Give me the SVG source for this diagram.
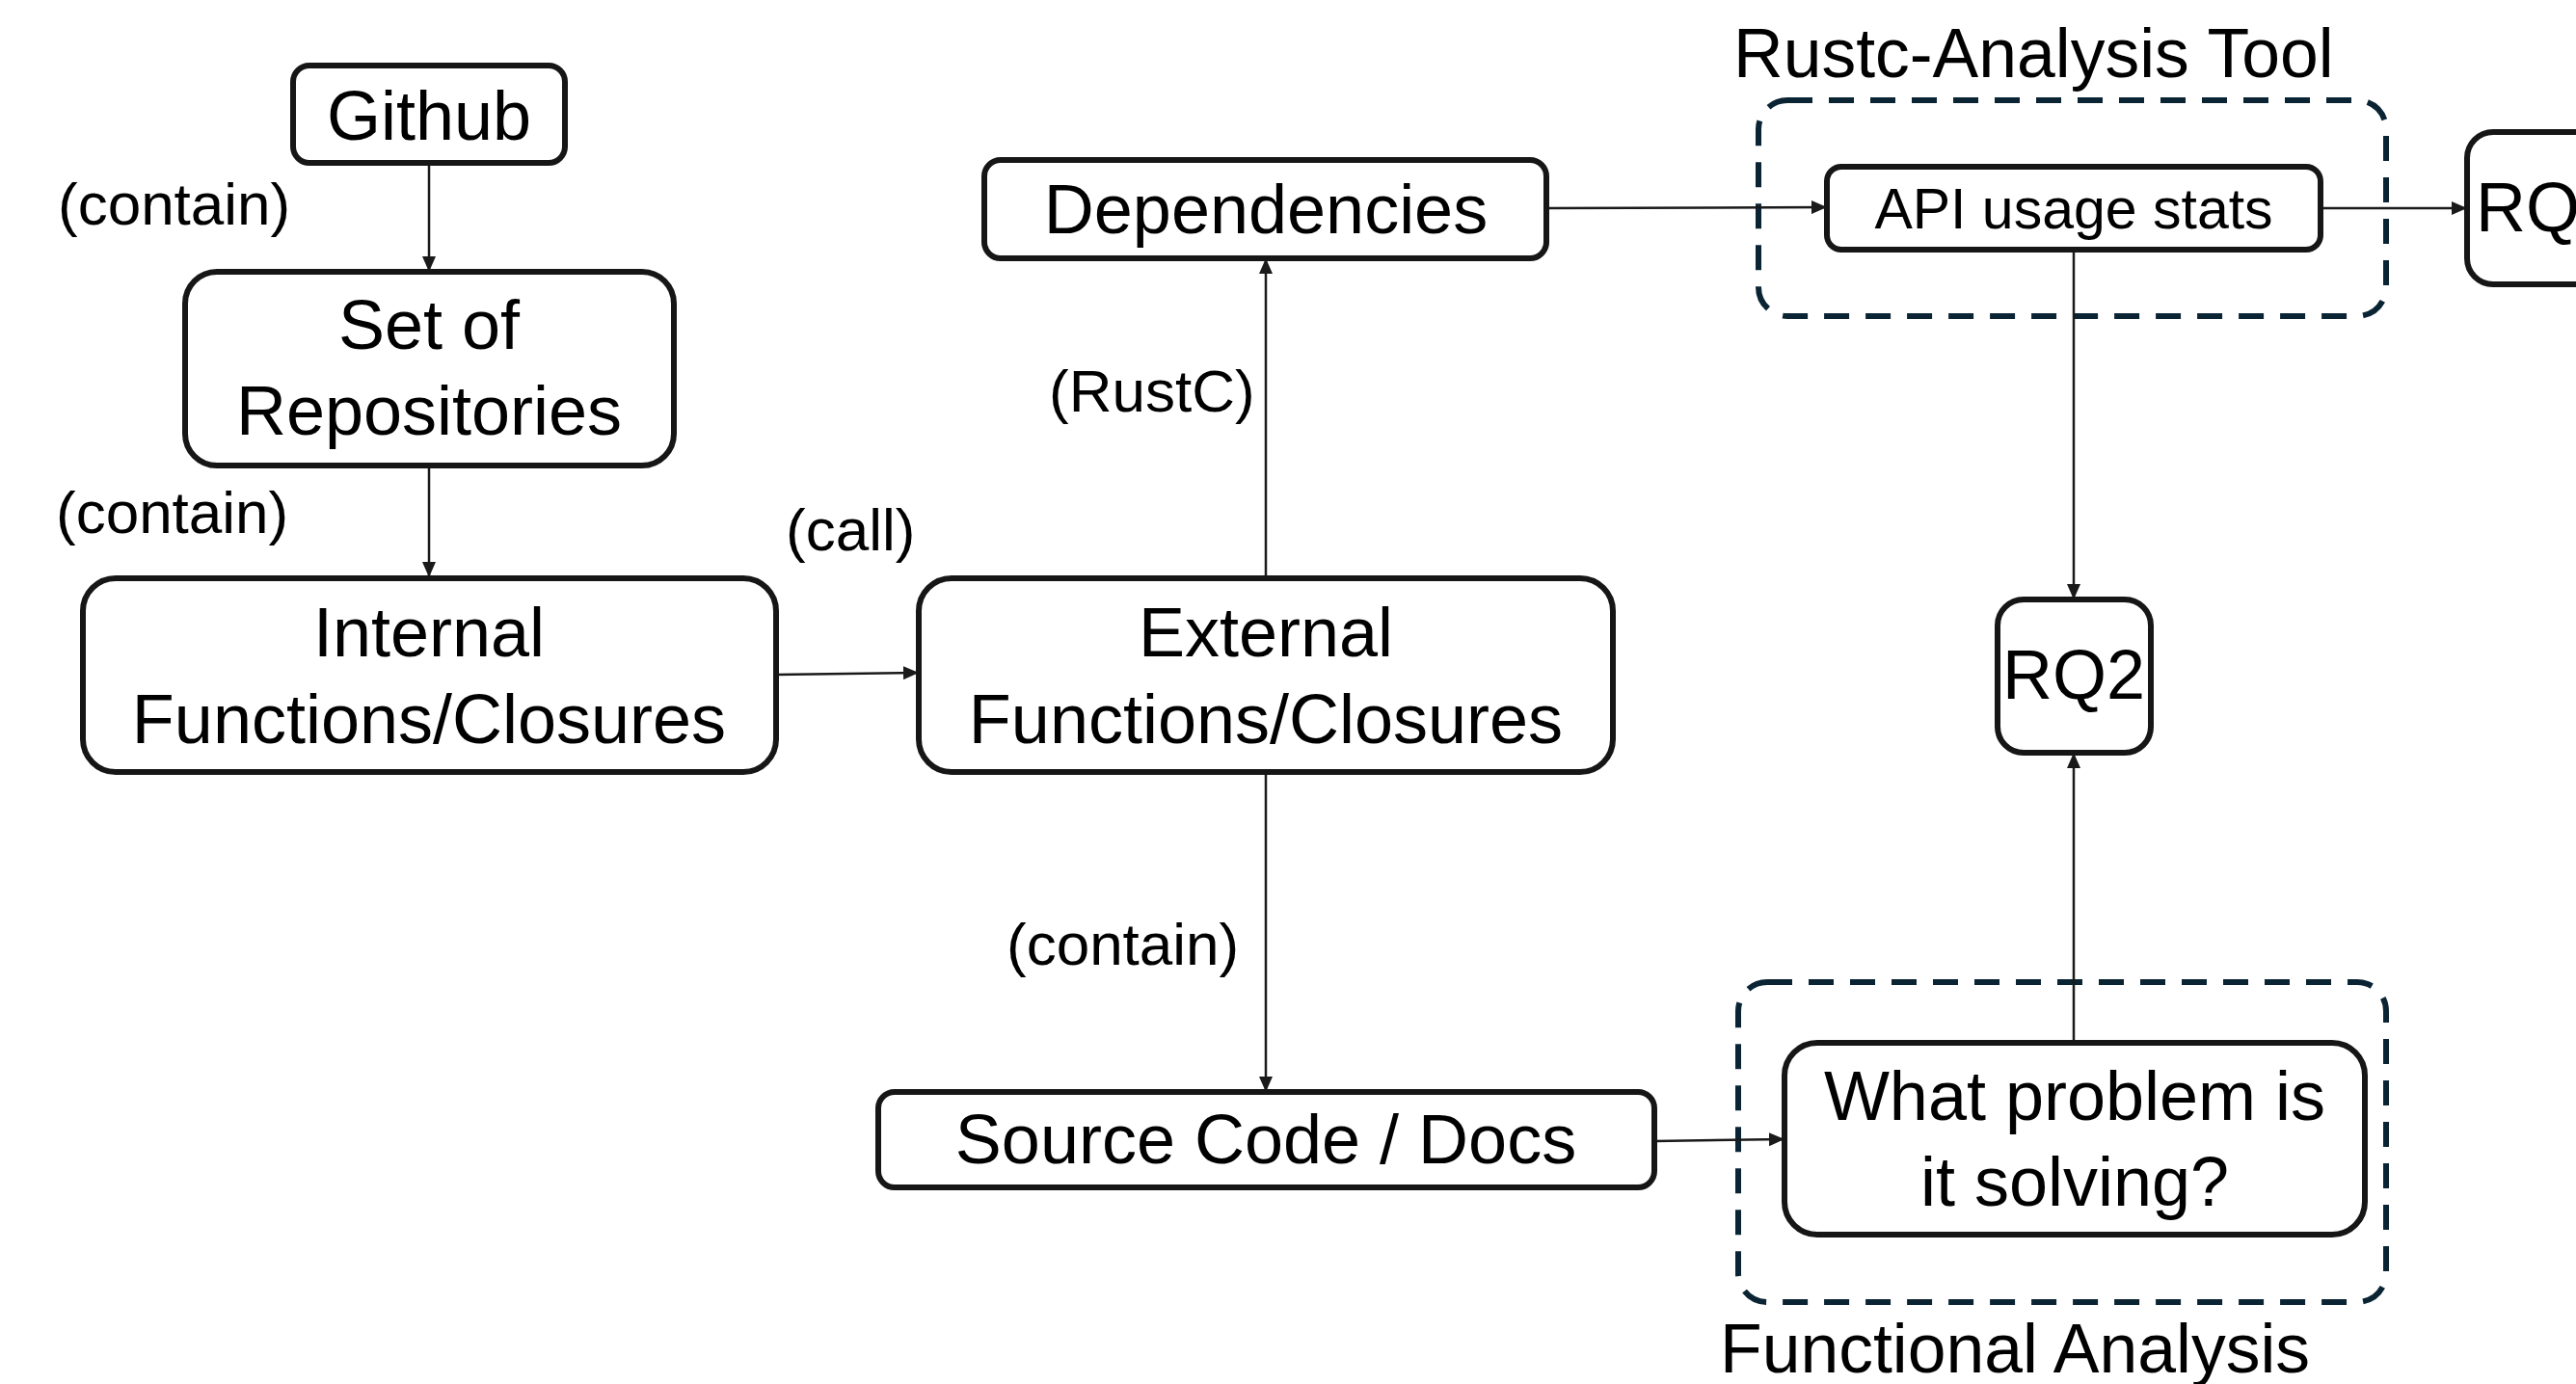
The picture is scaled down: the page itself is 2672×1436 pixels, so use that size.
<svg xmlns="http://www.w3.org/2000/svg" width="2672" height="1436" viewBox="0 0 2672 1436">
<defs>
<style>
.node{fill:#ffffff;stroke:#161616;stroke-width:6}
.grp{fill:none;stroke:#0b2434;stroke-width:6;stroke-dasharray:26 17}
.t{font-family:"Liberation Sans",Arial,sans-serif;font-size:72px;fill:#000;text-anchor:middle}
.ts{font-family:"Liberation Sans",Arial,sans-serif;font-size:59px;fill:#000;text-anchor:middle}
.lbl{font-family:"Liberation Sans",Arial,sans-serif;font-size:62px;fill:#000}
.gl{font-family:"Liberation Sans",Arial,sans-serif;font-size:71.5px;fill:#000}
.c{fill:none;stroke:#1a1a1a;stroke-width:2.5}
</style>
<marker id="ah" markerUnits="userSpaceOnUse" markerWidth="16" markerHeight="14" refX="15" refY="7" orient="auto">
<path d="M0,0 L16,7 L0,14 z" fill="#1a1a1a"/>
</marker>
</defs>
<rect width="2672" height="1436" fill="#ffffff"/>

<g id="group-rustc">
<rect class="grp" x="1824" y="104" width="651" height="224" rx="30"/>
<text class="gl" x="1798" y="80">Rustc-Analysis Tool</text>
</g>
<g id="group-functional">
<rect class="grp" x="1803" y="1019" width="672" height="332" rx="30"/>
<text class="gl" x="1784" y="1424">Functional Analysis</text>
</g>

<g id="connectors">
<line class="c" x1="445" y1="169" x2="445" y2="281" marker-end="url(#ah)"/>
<line class="c" x1="445" y1="483" x2="445" y2="598" marker-end="url(#ah)"/>
<line class="c" x1="805" y1="700" x2="952" y2="698" marker-end="url(#ah)"/>
<line class="c" x1="1313" y1="600" x2="1313" y2="269" marker-end="url(#ah)"/>
<line class="c" x1="1313" y1="801" x2="1313" y2="1132" marker-end="url(#ah)"/>
<line class="c" x1="1605" y1="216" x2="1894" y2="215" marker-end="url(#ah)"/>
<line class="c" x1="2408" y1="216" x2="2558" y2="216" marker-end="url(#ah)"/>
<line class="c" x1="2151" y1="260" x2="2151" y2="621" marker-end="url(#ah)"/>
<line class="c" x1="2151" y1="1082" x2="2151" y2="782" marker-end="url(#ah)"/>
<line class="c" x1="1716" y1="1184" x2="1850" y2="1182" marker-end="url(#ah)"/>
<text class="lbl" x="60" y="233">(contain)</text>
<text class="lbl" x="58" y="553">(contain)</text>
<text class="lbl" x="815" y="571">(call)</text>
<text class="lbl" x="1088" y="427">(RustC)</text>
<text class="lbl" x="1044" y="1001">(contain)</text>
</g>

<g id="github">
<rect class="node" x="304" y="68" width="282" height="101" rx="17"/>
<text class="t" x="445" y="145">Github</text>
</g>
<g id="repositories">
<rect class="node" x="192" y="282" width="507" height="201" rx="33"/>
<text class="t" x="445" y="362">Set of</text>
<text class="t" x="445" y="451">Repositories</text>
</g>
<g id="internal">
<rect class="node" x="86" y="600" width="719" height="201" rx="34"/>
<text class="t" x="445" y="681">Internal</text>
<text class="t" x="445" y="771">Functions/Closures</text>
</g>
<g id="external">
<rect class="node" x="953" y="600" width="720" height="201" rx="34"/>
<text class="t" x="1313" y="681">External</text>
<text class="t" x="1313" y="771">Functions/Closures</text>
</g>
<g id="dependencies">
<rect class="node" x="1021" y="166" width="583" height="102" rx="17"/>
<text class="t" x="1313" y="242">Dependencies</text>
</g>
<g id="api-usage">
<rect class="node" x="1895" y="173" width="512" height="86" rx="15"/>
<text class="ts" x="2151" y="237">API usage stats</text>
</g>
<g id="rq1">
<rect class="node" x="2559" y="137" width="200" height="158" rx="27"/>
<text class="t" x="2568" y="240" style="text-anchor:start">RQ</text>
</g>
<g id="rq2">
<rect class="node" x="2072" y="622" width="159" height="159" rx="27"/>
<text class="t" x="2151" y="725">RQ2</text>
</g>
<g id="source">
<rect class="node" x="911" y="1133" width="805" height="99" rx="17"/>
<text class="t" x="1313" y="1207">Source Code / Docs</text>
</g>
<g id="problem">
<rect class="node" x="1851" y="1082" width="602" height="199" rx="34"/>
<text class="t" x="2152" y="1162">What problem is</text>
<text class="t" x="2152" y="1251">it solving?</text>
</g>
</svg>
